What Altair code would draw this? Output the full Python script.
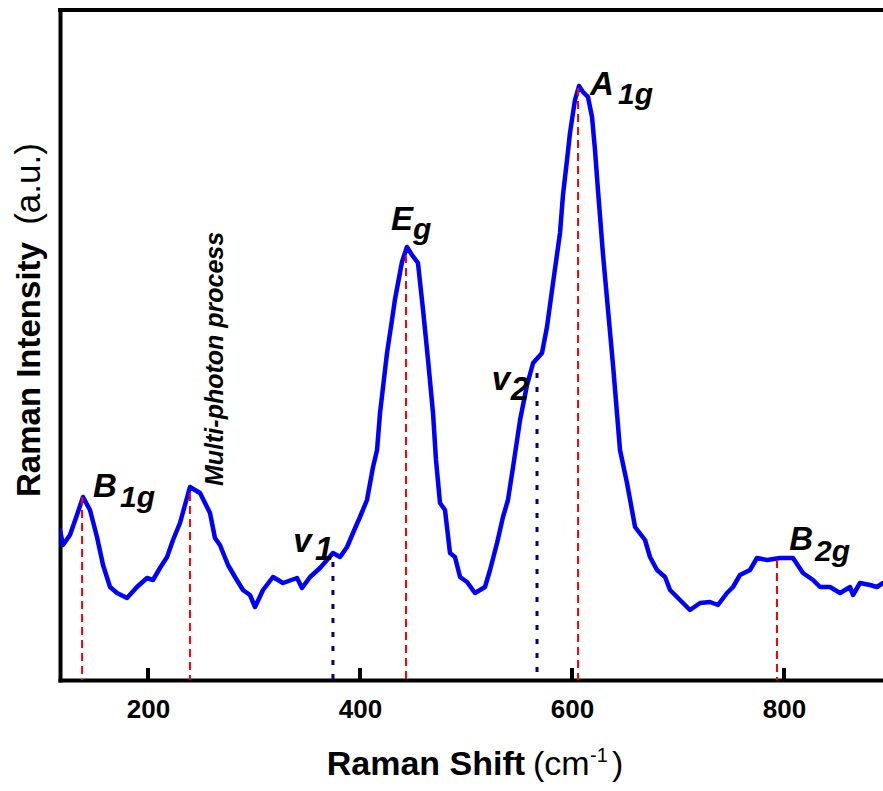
import altair as alt
import pandas as pd

# ---- spectrum (Raman shift in cm^-1, intensity in a.u.) ----
shift = [117.0, 119.8, 126.4, 133.0, 138.7, 145.3, 151.9, 157.6, 164.2, 170.8,
         180.2, 189.6, 199.1, 204.7, 211.3, 218.0, 223.6, 230.2, 234.9, 239.6,
         249.1, 258.5, 263.2, 267.9, 275.5, 282.1, 289.6, 296.2, 301.0, 308.5,
         317.9, 327.4, 340.6, 345.3, 352.9, 362.3, 368.9, 374.5, 381.2, 387.8,
         393.4, 400.0, 406.6, 412.3, 416.1, 418.9, 425.5, 430.2, 432.9, 439.6,
         444.3, 449.1, 454.7, 459.5, 464.2, 468.9, 471.7, 475.5, 480.2, 484.9,
         489.6, 494.4, 501.0, 508.5, 517.9, 522.7, 529.3, 534.9, 539.6, 544.4,
         551.0, 557.6, 563.3, 571.7, 576.4, 582.1, 588.7, 591.5, 595.3, 598.1,
         602.8, 606.6, 610.4, 615.1, 618.9, 621.7, 624.5, 629.3, 634.0, 638.7,
         645.3, 651.9, 659.5, 668.9, 673.6, 680.2, 687.8, 692.5, 701.9, 711.3,
         720.8, 730.2, 737.7, 746.2, 751.9, 758.5, 767.9, 774.5, 784.0, 796.2,
         808.5, 817.9, 827.4, 834.0, 843.4, 852.9, 862.3, 865.1, 871.7, 881.2,
         887.7, 893.4]
intensity = [150, 135, 145, 165, 183, 170, 143, 115, 93, 87,
             82, 93, 102, 100, 112, 123, 140, 157, 175, 193,
             187, 167, 142, 135, 115, 103, 90, 85, 73, 90,
             103, 97, 102, 92, 103, 112, 120, 127, 123, 133,
             147, 163, 180, 213, 230, 267, 327, 360, 380, 418,
             433, 425, 417, 370, 320, 267, 220, 177, 170, 127,
             123, 103, 98, 87, 93, 110, 137, 163, 180, 213,
             260, 295, 317, 327, 353, 397, 447, 485, 520, 547,
             580, 594, 588, 583, 563, 530, 490, 425, 370, 315,
             230, 197, 153, 140, 123, 110, 103, 90, 80, 70,
             77, 78, 75, 87, 93, 105, 110, 122, 120, 122,
             122, 107, 100, 93, 93, 87, 93, 85, 97, 95,
             93, 97]

# ---- assigned Raman modes (red dashed) and extra modes (navy dotted) ----
peak_shift = [137.8, 239.6, 443.4, 605.7, 793.4]
peak_top = [183, 187, 425, 592, 120]
mode_shift = [374.5, 567.0]
mode_top = [118, 307]

tick_values = [200, 400, 600, 800]

# ---- peak labels ----
big_text = ["B", "E", "A", "B", "v", "v", "1", "2"]
big_x = [148.1, 429.3, 617.0, 805.0, 337.1, 524.3, 357.6, 542.3]
big_y = [183, 450, 585, 130, 128, 290, 120, 280]
sub_text = ["1g", "g", "1g", "2g"]
sub_x = [173.6, 450.0, 643.4, 829.3]
sub_y = [173, 441, 576, 119]

note_text = ["Multi-photon process"]
note_x = [270.8]
note_y = [194]

X_MIN, X_MAX = 117, 893.4
Y_MIN, Y_MAX = 0, 670
FONT = "Liberation Sans"

x_scale = alt.Scale(domain=[X_MIN, X_MAX], nice=False, zero=False)
y_scale = alt.Scale(domain=[Y_MIN, Y_MAX], nice=False, zero=False)

bottom_axis = alt.Axis(values=tick_values, ticks=False, labelPadding=16,
                       labelFont=FONT, labelFontSize=26, labelFontWeight="bold",
                       labelColor="black", domainColor="black", domainWidth=4,
                       domainCap="square", grid=False, labelFlush=False)
left_axis = alt.Axis(ticks=False, labels=False, domainColor="black",
                     domainWidth=4, domainCap="square", grid=False)


def qd(v):
    return alt.datum(v, type="quantitative")


spec_df = pd.DataFrame({"shift": shift, "intensity": intensity})
peak_df = pd.DataFrame({"shift": peak_shift, "top": peak_top})
mode_df = pd.DataFrame({"shift": mode_shift, "top": mode_top})
tick_df = pd.DataFrame({"tick": tick_values})
big_df = pd.DataFrame({"x": big_x, "y": big_y, "t": big_text})
sub_df = pd.DataFrame({"x": sub_x, "y": sub_y, "t": sub_text})
note_df = pd.DataFrame({"x": note_x, "y": note_y, "t": note_text})

line = alt.Chart(spec_df).mark_line(
    color="#0000ff", strokeWidth=4.5, strokeJoin="round", strokeCap="round", clip=True
).encode(
    x=alt.X("shift:Q", scale=x_scale, axis=bottom_axis, title=None),
    y=alt.Y("intensity:Q", scale=y_scale, axis=left_axis, title=None),
)

peaks = alt.Chart(peak_df).mark_rule(color="#ff0000", strokeWidth=2, strokeDash=[8, 5]).encode(
    x=alt.X("shift:Q", scale=x_scale, title=None),
    y=alt.Y("top:Q", scale=y_scale, title=None),
    y2=qd(Y_MIN),
)

modes = alt.Chart(mode_df).mark_rule(color="#000080", strokeWidth=3, strokeDash=[5, 9]).encode(
    x=alt.X("shift:Q", scale=x_scale, title=None),
    y=alt.Y("top:Q", scale=y_scale, title=None),
    y2=qd(Y_MIN),
)

ticks = alt.Chart(tick_df).mark_rule(color="black", strokeWidth=4).encode(
    x=alt.X("tick:Q", scale=x_scale, title=None),
    y=qd(Y_MIN),
    y2=qd(Y_MIN + 12),
)

top_border = alt.Chart(pd.DataFrame({"k": [0]})).mark_rule(
    color="black", strokeWidth=4, strokeCap="square"
).encode(
    x=qd(X_MIN), x2=qd(X_MAX), y=qd(Y_MAX),
)

big_labels = alt.Chart(big_df).mark_text(
    align="left", baseline="alphabetic", font=FONT, fontSize=33,
    fontStyle="italic", fontWeight="bold", color="black"
).encode(
    x=alt.X("x:Q", scale=x_scale, title=None),
    y=alt.Y("y:Q", scale=y_scale, title=None),
    text="t:N",
)

sub_labels = alt.Chart(sub_df).mark_text(
    align="left", baseline="alphabetic", font=FONT, fontSize=30,
    fontStyle="italic", fontWeight="bold", color="black"
).encode(
    x=alt.X("x:Q", scale=x_scale, title=None),
    y=alt.Y("y:Q", scale=y_scale, title=None),
    text="t:N",
)

note = alt.Chart(note_df).mark_text(
    align="left", baseline="alphabetic", angle=270, font=FONT, fontSize=25,
    fontStyle="italic", fontWeight="bold", color="black"
).encode(
    x=alt.X("x:Q", scale=x_scale, title=None),
    y=alt.Y("y:Q", scale=y_scale, title=None),
    text="t:N",
)


def title_text(txt, x, y, size, weight="normal", angle=0, align="left"):
    props = dict(align=align, baseline="alphabetic", font=FONT, fontSize=size,
                 fontWeight=weight, color="black")
    if angle:
        props["angle"] = angle
    return alt.Chart(pd.DataFrame({"t": [txt]})).mark_text(**props).encode(
        x=alt.value(x), y=alt.value(y), text="t:N"
    )


xt1 = title_text("Raman Shift", 266.7, 765, 34, "bold")
xt2 = title_text("(cm", 473, 765, 34)
xt3 = title_text("-1", 530, 752, 20)
xt4 = title_text(")", 552, 765, 34)
yt1 = title_text("Raman Intensity", -20, 487, 33, "bold", angle=270)
yt2 = title_text("(a.u.)", -20, 174, 35, "normal", angle=270, align="center")

chart = alt.layer(
    line, peaks, modes, ticks, top_border, big_labels, sub_labels, note,
    xt1, xt2, xt3, xt4, yt1, yt2
).properties(
    width=823, height=670,
    padding={"left": 60, "top": 10, "right": 0, "bottom": 111},
    autosize=alt.AutoSizeParams(type="none"),
).configure_view(stroke=None)

chart.save("out.html", embed_options={"renderer": "svg", "actions": False})
